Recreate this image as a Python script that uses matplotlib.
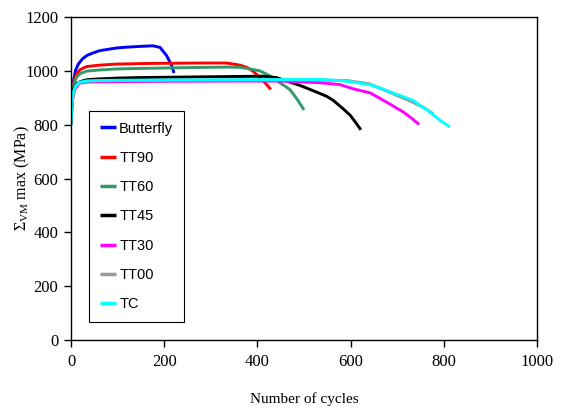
import matplotlib
matplotlib.use("Agg")
import matplotlib.pyplot as plt

plt.rcParams["mathtext.fontset"] = "custom"
plt.rcParams["mathtext.rm"] = "Liberation Serif"
plt.rcParams["mathtext.it"] = "Liberation Serif:italic"

labels = ["Butterfly", "TT90", "TT60", "TT45", "TT30", "TT00", "TC"]
colors = ["#0000FF", "#FF0000", "#339966", "#000000", "#FF00FF", "#999999", "#00FFFF"]

butterfly_n = [0, 2, 5, 10, 16, 25, 34, 48, 62, 80, 98, 120, 150, 176, 191, 205, 216, 221]
butterfly_s = [800, 902, 960, 1003, 1026, 1045, 1057, 1067, 1075, 1080, 1085, 1088, 1091, 1093, 1087, 1057, 1020, 992]

tt90_n = [0, 3, 6, 12, 20, 34, 60, 98, 150, 200, 277, 334, 363, 377, 391, 405, 412, 429]
tt90_s = [820, 930, 960, 989, 1005, 1016, 1021, 1025, 1027, 1028, 1029, 1029, 1021, 1013, 998, 976, 964, 931]

tt60_n = [0, 3, 6, 12, 20, 34, 60, 98, 150, 250, 340, 363, 384, 405, 425, 441, 455, 470, 485, 500]
tt60_s = [810, 920, 950, 977, 990, 999, 1003, 1007, 1009, 1012, 1014, 1013, 1007, 1000, 983, 964, 948, 930, 895, 855]

tt45_n = [0, 3, 6, 12, 20, 34, 60, 98, 150, 250, 350, 412, 441, 470, 491, 527, 549, 563, 584, 599, 610, 622]
tt45_s = [800, 910, 935, 952, 960, 967, 970, 973, 975, 977, 979, 980, 975, 958, 946, 921, 905, 890, 859, 835, 810, 781]

tt30_n = [0, 3, 8, 18, 34, 60, 98, 200, 350, 450, 534, 577, 606, 642, 677, 713, 730, 747]
tt30_s = [820, 890, 930, 954, 958, 959, 960, 961, 962, 962, 956, 949, 933, 918, 884, 847, 825, 801]

tt00_n = [0, 3, 8, 18, 34, 60, 98, 200, 350, 500, 592, 640, 677, 734, 760, 777]
tt00_s = [800, 900, 935, 955, 962, 963, 964, 965, 966, 966, 964, 952, 925, 883, 860, 841]

tc_n = [0, 2, 5, 10, 18, 34, 60, 98, 200, 350, 534, 577, 606, 648, 677, 734, 770, 792, 813]
tc_s = [800, 880, 920, 945, 958, 962, 964, 965, 966, 967, 968, 964, 958, 946, 927, 890, 847, 816, 791]

series_n = [butterfly_n, tt90_n, tt60_n, tt45_n, tt30_n, tt00_n, tc_n]
series_s = [butterfly_s, tt90_s, tt60_s, tt45_s, tt30_s, tt00_s, tc_s]

x_ticks = [0, 200, 400, 600, 800, 1000]
y_ticks = [0, 200, 400, 600, 800, 1000, 1200]

fig = plt.figure(figsize=(5.65, 4.08), dpi=100)
ax = fig.add_axes([71/565, 1-340/408, 466/565, 323/408])

for n, s, lab, c in zip(series_n, series_s, labels, colors):
    ax.plot(n, s, color=c, lw=2.1, label=lab, solid_capstyle="butt")

ax.set_xlim(0, 1000)
ax.set_ylim(0, 1200)
ax.set_xticks(x_ticks)
ax.set_yticks(y_ticks)
for sp in ax.spines.values():
    sp.set_linewidth(1.0)
    sp.set_color("black")
ax.tick_params(direction="out", length=5, width=1, colors="black")
ax.tick_params(axis="y", pad=4)
ax.tick_params(axis="x", pad=5)
for t in ax.get_xticklabels() + ax.get_yticklabels():
    t.set_fontfamily("Liberation Serif")
    t.set_fontsize(12)

ax.set_xlabel("Number of cycles", fontfamily="Liberation Serif", fontsize=11)
ax.xaxis.set_label_coords(0.5, -52/323)
ax.set_ylabel(r"$\Sigma_{\rm VM}$ max (MPa)", fontfamily="Liberation Serif", fontsize=11.5)
ax.yaxis.set_label_coords(-39/466, 0.5)

leg = ax.legend(loc="upper left", bbox_to_anchor=(18/466, 229/323), borderaxespad=0,
                prop={"family": "Liberation Sans", "size": 10.5},
                handlelength=1.15, handletextpad=0.2, labelspacing=1.05,
                borderpad=0.72, fancybox=False, framealpha=1, edgecolor="black")
leg.get_frame().set_linewidth(0.8)
for line in leg.get_lines():
    line.set_linewidth(2.5)

fig.savefig("out.png", dpi=100)
